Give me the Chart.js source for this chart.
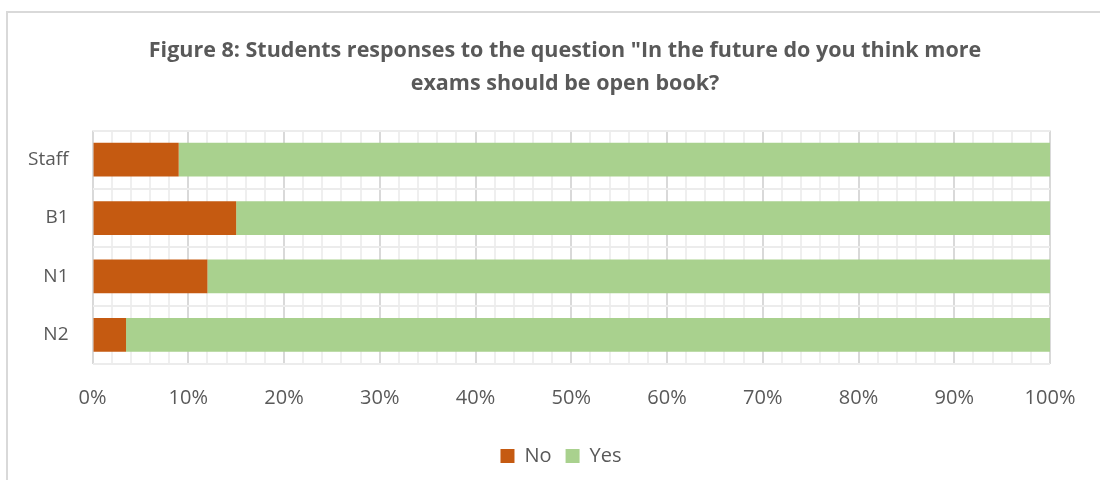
<!DOCTYPE html>
<html>
<head>
<meta charset="utf-8">
<script src="https://cdn.jsdelivr.net/npm/chart.js@4"></script>
<style>
  html, body { margin: 0; padding: 0; background: #fff; }
  #frame { position: absolute; left: 6px; top: 11px; width: 1100px; height: 480px; border: 2px solid #d9d9d9; box-sizing: border-box; }
  #wrap { position: absolute; left: 0; top: 0; width: 1100px; height: 480px; }
</style>
</head>
<body>
<div id="frame"></div>
<div id="wrap"><canvas id="chart" width="1100" height="480"></canvas></div>
<script>
// ---------- data ----------
const categories = ["Staff", "B1", "N1", "N2"];
const noValues = [9, 15, 12, 3.5];
const yesValues = [91, 85, 88, 96.5];
const seriesNames = ["No", "Yes"];
const titleLines = ["Figure 8: Students responses to the question \"In the future do you think more", "exams should be open book?"];

const textColor = "#595959";
const fontFam = "'Open Sans', 'Liberation Sans', sans-serif";

// nudge title + legend right so they centre on the frame, not the padded box
const shiftBlocks = {
  id: "shiftBlocks",
  afterLayout(chart) {
    const t = chart.titleBlock, l = chart.legend;
    if (t) { t.left += 38; t.right += 38; }
    if (l) { l.left += 34; l.right += 34; }
  }
};

const ctx = document.getElementById("chart").getContext("2d");
const chart = new Chart(ctx, {
  type: "bar",
  data: {
    labels: categories,
    datasets: [
      { label: seriesNames[0], data: noValues, backgroundColor: "#c55a11", borderWidth: 0 },
      { label: seriesNames[1], data: yesValues, backgroundColor: "#a9d18e", borderWidth: 0 }
    ]
  },
  options: {
    indexAxis: "y",
    responsive: false,
    animation: false,
    layout: { padding: { left: 4, right: 50, top: 18, bottom: 4 } },
    datasets: { bar: { barPercentage: 0.58, categoryPercentage: 1 } },
    scales: {
      x: {
        stacked: true,
        min: 0, max: 100,
        ticks: {
          stepSize: 2, autoSkip: false, maxRotation: 0,
          color: textColor, padding: 22,
          font: { family: fontFam, size: 20 },
          callback: (v) => (v % 10 === 0 ? v + "%" : "")
        },
        grid: {
          color: (c) => (c.tick && c.tick.value % 10 === 0 ? "#d9d9d9" : "#efefef"),
          lineWidth: 2,
          drawTicks: false
        },
        border: { display: false }
      },
      y: {
        stacked: true,
        ticks: { color: textColor, padding: 24, font: { family: fontFam, size: 19 } },
        grid: { offset: true, color: "#ececec", lineWidth: 2, drawTicks: false },
        border: { display: false }
      }
    },
    plugins: {
      title: {
        display: true,
        text: titleLines,
        color: textColor,
        font: { family: fontFam, size: 21.5, weight: "bold", lineHeight: 1.5 },
        padding: { top: 17, bottom: 31 }
      },
      legend: {
        position: "bottom",
        labels: {
          color: textColor,
          boxWidth: 14, boxHeight: 14,
          padding: 14,
          font: { family: fontFam, size: 20 }
        }
      },
      tooltip: { enabled: false }
    }
  },
  plugins: [shiftBlocks]
});
</script>
</body>
</html>
